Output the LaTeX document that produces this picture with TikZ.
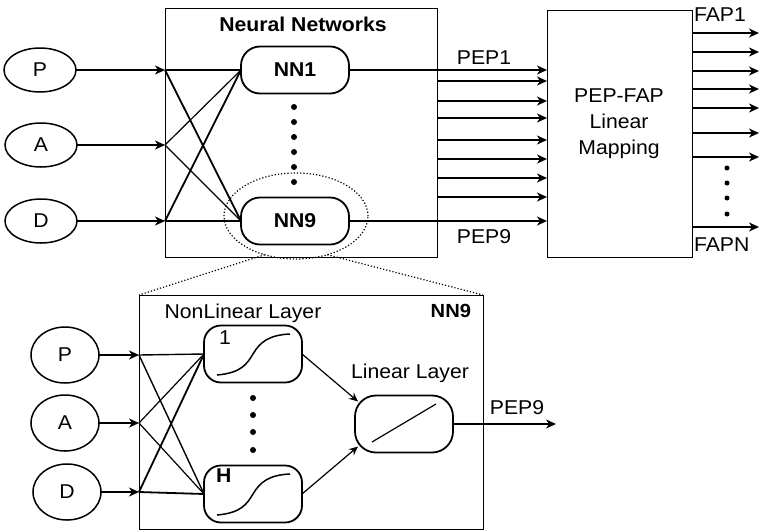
\documentclass[tikz,border=0pt]{standalone}
\usepackage{fontspec}
\setmainfont{Liberation Sans}[FakeStretch=1.06]
\usetikzlibrary{arrows.meta,shapes.geometric,calc}
\begin{document}
\begin{tikzpicture}[x=1pt,y=-1pt,
  font=\fontsize{20}{26}\selectfont,
  every node/.style={inner sep=0pt,outer sep=0pt},
  inp/.style={ellipse,draw,line width=1.5pt,minimum width=72pt,minimum height=44pt},
  inpb/.style={ellipse,draw,line width=1.5pt,minimum width=68pt,minimum height=56pt},
  frame/.style={draw,line width=1pt},
  nnbox/.style={draw,rounded corners=19pt,line width=1.8pt,minimum width=108pt,minimum height=47pt},
  unitbox/.style={draw,rounded corners=17pt,line width=1.8pt,minimum width=98pt,minimum height=57pt},
  arr/.style={line width=1.8pt,-{Stealth[length=10pt,width=9pt,inset=3pt]}},
  arrthin/.style={line width=1.2pt,-{Stealth[length=9pt,width=8pt,inset=3pt]}},
  thk/.style={line width=1.8pt},
  thn/.style={line width=1.2pt},
  dotc/.style={circle,fill,minimum size=6pt},
  lbl/.style={inner sep=0pt}
]
\useasboundingbox (0,0) rectangle (760,531);

% ---------- top: Neural Networks ----------
\node[frame,minimum width=272pt,minimum height=249pt,anchor=north west] (nnf) at (165,8) {};
\node[font=\fontsize{20}{22}\selectfont\bfseries] (nntitle) at (303,24) {Neural Networks};

\node[inp] (P) at (40,70) {P};
\node[inp] (A) at (41,145) {A};
\node[inp] (D) at (41,221) {D};

\coordinate (iP) at (165,70);
\coordinate (iA) at (165,145);
\coordinate (iD) at (165,221);

\draw[arr] (P) -- (iP);
\draw[arr] (A) -- (iA);
\draw[arr] (D) -- (iD);

\node[nnbox,font=\fontsize{20}{24}\selectfont\bfseries] (nn1) at (295,70) {NN1};
\node[nnbox,font=\fontsize{20}{24}\selectfont\bfseries] (nn9) at (295,221) {NN9};

\draw[thk] (iP) -- (nn1.west);
\draw[thk] (iP) -- (nn9.west);
\draw[thn] (iA) -- (nn1.west);
\draw[thn] (iA) -- (nn9.west);
\draw[thk] (iD) -- (nn1.west);
\draw[thk] (iD) -- (nn9.west);

\foreach \yy [count=\i] in {107,122,137,152,167,182}
  \node[dotc] (td\i) at (294,\yy) {};

\node[ellipse,draw,dotted,line width=1.2pt,minimum width=144pt,minimum height=86pt] (zoomell) at (296,216) {};

% ---------- PEP-FAP box ----------
\node[frame,minimum width=145pt,minimum height=247pt,anchor=north west] (pep) at (547,10) {};
\node[align=center,font=\fontsize{20}{26}\selectfont] (peptxt) at (619,124) {PEP-FAP\\Linear\\Mapping};

\draw[arr] (nn1.east) -- (nn1.east -| pep.west);
\foreach \yy [count=\i] in {81,101,118,140,159,178,197} {
  \coordinate (os\i) at (437,\yy);
  \draw[arr] (os\i) -- (os\i -| pep.west);
}
\draw[arr] (nn9.east) -- (nn9.east -| pep.west);
\node (pep1) at (484,58) {PEP1};
\node (pep9) at (484,237) {PEP9};

\foreach \yy [count=\i] in {33,52,71,89,108,133,157,227} {
  \coordinate (fs\i) at (692,\yy);
  \coordinate (fe\i) at (759,\yy);
  \draw[arr] (fs\i) -- (fe\i);
}
\foreach \yy [count=\i] in {168,183,198,214}
  \node[dotc,minimum size=5pt] (fd\i) at (727,\yy) {};
\node[anchor=west] (fap1) at (694,15) {FAP1};
\node[anchor=west] (fapn) at (694,245) {FAPN};

% ---------- bottom: NN9 detail ----------
\node[frame,minimum width=344pt,minimum height=234pt,anchor=north west] (dbox) at (139,295) {};
\draw[dotted,line width=1.2pt] (zoomell.231) -- (dbox.north west);
\draw[dotted,line width=1.2pt] (zoomell.309) -- (dbox.north east);

\node (nltxt) at (243,313) {NonLinear Layer};
\node[font=\fontsize{19}{22}\selectfont\bfseries,anchor=east] (nn9lbl) at (471,311) {NN9};

\node[inpb] (P2) at (65,355) {P};
\node[inpb] (A2) at (65,423) {A};
\node[inpb] (D2) at (67,492) {D};

\coordinate (jP) at (139,355);
\coordinate (jA) at (139,423);
\coordinate (jD) at (139,492);
\draw[arr] (P2) -- (jP);
\draw[arr] (A2) -- (jA);
\draw[arr] (D2) -- (jD);

\node[unitbox] (u1) at (253,354) {};
\node[unitbox] (uH) at (253,494) {};
\node[anchor=north west] (u1lbl) at (219,331) {1};
\node[anchor=north west,font=\fontsize{20}{24}\selectfont\bfseries] (uHlbl) at (216,469) {H};

\foreach \nm in {u1,uH} {
  \begin{scope}[shift={(\nm.center)}]
    \draw[line width=1.5pt] (-36,21) .. controls (-12,19) and (-6,10) .. (0,0)
      .. controls (7,-12) and (16,-19) .. (37,-20);
  \end{scope}
}

\draw[line width=1.4pt] (jP) -- (u1.west);
\draw[line width=1.4pt] (jP) -- (uH.west);
\draw[thn] (jA) -- (u1.west);
\draw[thn] (jA) -- (uH.west);
\draw[thk] (jD) -- (u1.west);
\draw[thk] (jD) -- (uH.west);

\foreach \yy [count=\i] in {398,415,432,450}
  \node[dotc] (bd\i) at (253,\yy) {};

\node[draw,rounded corners=21pt,line width=1.8pt,minimum width=98pt,minimum height=57pt] (lin) at (404,424) {};
\draw[line width=1.2pt] (372,442) -- (436,404);
\node (lintxt) at (410,373) {Linear Layer};

\draw[arrthin] (u1.east) -- ([shift={(3,6)}]lin.north west);
\draw[arrthin] (uH.east) -- ([shift={(3,-6)}]lin.south west);

\coordinate (pepout) at (556,424);
\draw[arr] (lin.east) -- (pepout);
\node (pep9b) at (517,408) {PEP9};

\end{tikzpicture}
\end{document}
